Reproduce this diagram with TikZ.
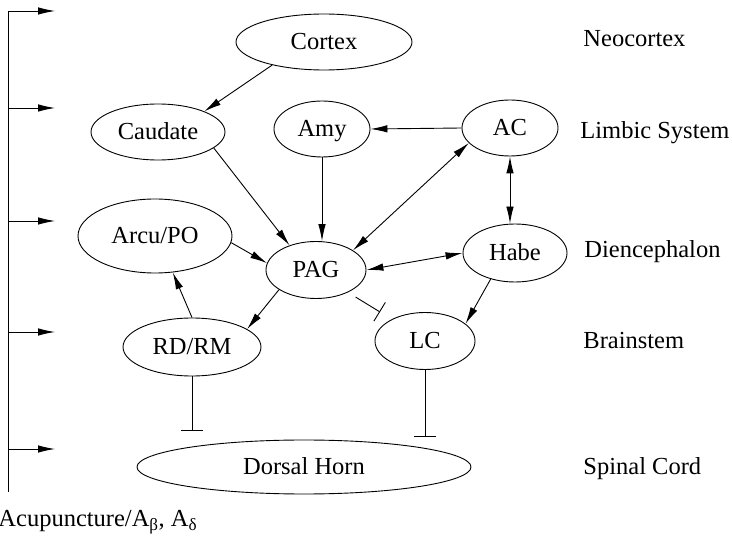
\documentclass[tikz,border=0pt]{standalone}
\usepackage{fontspec}
\setmainfont{Liberation Serif}
\usetikzlibrary{shapes.geometric,arrows.meta}
\begin{document}
\begin{tikzpicture}[x=1pt,y=-1pt,
  line width=0.9pt,
  txt/.style={font=\fontsize{24.5}{28}\selectfont, inner sep=0pt},
  ell/.style={ellipse, draw, txt, text height=16pt, text depth=0.5pt},
  arr/.style={-{Latex[length=17pt,width=7.5pt]}},
  darr/.style={{Latex[length=17pt,width=7.5pt]}-{Latex[length=17pt,width=7.5pt]}},
  inh/.style={-{Bar[width=22pt,line width=0.9pt]}},
  lvl/.style={txt, anchor=base west}]
\useasboundingbox (0,0) rectangle (732,537);

% nodes
\node[ell, minimum width=176pt, minimum height=56pt] (cortex) at (324,42) {Cortex};
\node[ell, minimum width=134pt, minimum height=56pt] (caudate) at (158,132) {Caudate};
\node[ell, minimum width=96pt, minimum height=56pt] (amy) at (322,129) {Amy};
\node[ell, minimum width=96pt, minimum height=56pt] (ac) at (510,128) {AC};
\node[ell, minimum width=154pt, minimum height=74pt] (arcu) at (155,236) {Arcu/PO};
\node[ell, minimum width=100pt, minimum height=57pt] (pag) at (316,270) {PAG};
\node[ell, minimum width=104pt, minimum height=58pt] (habe) at (515,253) {Habe};
\node[ell, minimum width=138pt, minimum height=58pt] (rd) at (192,347) {RD/RM};
\node[ell, minimum width=100pt, minimum height=57pt] (lc) at (425,341) {LC};
\node[ell, minimum width=334pt, minimum height=54pt] (dh) at (304,467) {Dorsal Horn};

% level labels
\node[lvl] (l1) at (583,47) {Neocortex};
\node[lvl] (l2) at (580,139) {Limbic System};
\node[lvl] (l3) at (584,258) {Diencephalon};
\node[lvl] (l4) at (583,349) {Brainstem};
\node[lvl] (l5) at (583,475) {Spinal Cord};

% left axis
\coordinate (a1) at (8,11);
\coordinate (a2) at (8,108);
\coordinate (a3) at (8,221);
\coordinate (a4) at (8,332);
\coordinate (a5) at (8,449);
\coordinate (abot) at (8,492);
\coordinate (b1) at (55,11);
\coordinate (b2) at (55,108);
\coordinate (b3) at (55,221);
\coordinate (b4) at (55,332);
\coordinate (b5) at (55,449);
\draw (a1) -- (abot);
\foreach \i in {1,...,5} \draw[arr] (a\i) -- (b\i);
\node[txt, anchor=base west] (acu) at (-2,527) {Acupuncture/A\textsubscript{β}, A\textsubscript{δ}};

% connectors
\draw[arr] (cortex.204) -- (caudate.24);
\draw[arr] (caudate.-16) -- (pag.137);
\draw[arr] (amy.south) -- (amy.south |- pag.north);
\draw[arr] (ac.west) -- (amy.east);
\draw[darr] (ac.200) -- (pag.28);
\draw[darr] (ac.south) -- (ac.south |- habe.north);
\draw[darr] (pag.east) -- (habe.west);
\draw[arr] (arcu.-5) -- (pag.172);
\draw[arr] (pag.208) -- (rd.18);
\draw[arr] (rd.north) -- (arcu.-64);
\draw[arr] (habe.227) -- (lc.23);

% inhibitions
\coordinate (pagt) at (380,312);
\draw[inh, shorten <=9pt] (pag.-35) -- (pagt);
\coordinate (rdt) at (190,431);
\draw[inh] (rd.south) -- (rd.south |- rdt);
\coordinate (lct) at (425,437);
\draw[inh] (lc.south) -- (lc.south |- lct);
\end{tikzpicture}
\end{document}
